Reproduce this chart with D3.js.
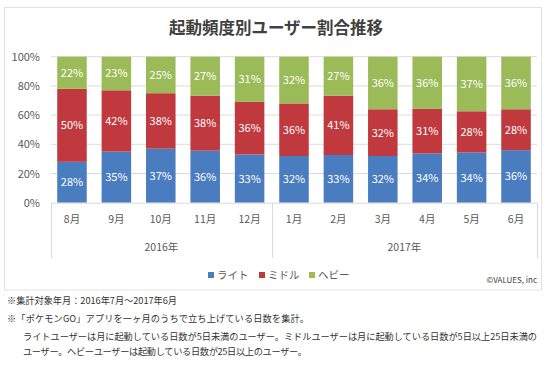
<!DOCTYPE html>
<html><head><meta charset="utf-8">
<script src="https://cdn.jsdelivr.net/npm/d3@7"></script>
<style>
html,body{margin:0;padding:0;background:#fff;}
text{font-family:"Noto Sans CJK JP","Noto Sans",sans-serif;}
</style></head>
<body>
<svg id="c" width="554" height="369"></svg>
<script>
const months = ["8月","9月","10月","11月","12月","1月","2月","3月","4月","5月","6月"];
const yearOf = ["2016年","2016年","2016年","2016年","2016年","2017年","2017年","2017年","2017年","2017年","2017年"];
const years = ["2016年","2017年"];
const seriesNames = ["ライト","ミドル","ヘビー"];
const light  = [28,35,37,36,33,32,33,32,34,34,36];
const middle = [50,42,38,38,36,36,41,32,31,28,28];
const heavy  = [22,23,25,27,31,32,27,36,36,37,36];
const yTicks = [0,0.2,0.4,0.6,0.8,1];
const colors = ["#4A7DC0","#C0393E","#9BBB59"];
const title = "起動頻度別ユーザー割合推移";
const credit = "©VALUES, inc";
const notes = [
  "※集計対象年月：2016年7月～2017年6月",
  "※「ポケモンGO」アプリを一ヶ月のうちで立ち上げている日数を集計。",
  "ライトユーザーは月に起動している日数が5日未満のユーザー。ミドルユーザーは月に起動している日数が5日以上25日未満の",
  "ユーザー。ヘビーユーザーは起動している日数が25日以上のユーザー。"
];

const svg = d3.select("#c");
const table = months.map((m,i)=>({month:m, year:yearOf[i], ライト:light[i], ミドル:middle[i], ヘビー:heavy[i]}));

// frame
svg.append("rect").attr("x",4.5).attr("y",7.5).attr("width",537).attr("height",282.5)
  .attr("fill","#fff").attr("stroke","#E2E2E2");

svg.append("text").attr("x",276).attr("y",34).attr("text-anchor","middle")
  .attr("font-size",16.5).attr("font-weight","bold").attr("fill","#404040").text(title);

const L=51, R=537, T=56.7, B=202.7;
const x = d3.scaleBand().domain(months).range([L,R]).paddingInner(0.335).paddingOuter(0.14);
const y = d3.scaleLinear().domain([0,1]).range([B,T]);

// gridlines
svg.append("g").selectAll("line").data(yTicks.filter(t=>t>0)).join("line")
  .attr("x1",L).attr("x2",R).attr("y1",d=>y(d)).attr("y2",d=>y(d))
  .attr("stroke","#DCDCDC").attr("stroke-width",1);

// y axis labels
const yAxis = d3.axisLeft(y).tickValues(yTicks).tickFormat(d3.format(".0%")).tickSize(0).tickPadding(0);
const ya = svg.append("g").attr("transform",`translate(40,0)`).call(yAxis);
ya.select(".domain").remove();
ya.selectAll("text").attr("font-size",11).attr("fill","#595959").attr("font-family",'"Noto Sans CJK JP",sans-serif');

const stack = d3.stack().keys(seriesNames).offset(d3.stackOffsetExpand);
const stacked = stack(table);

const g = svg.append("g");
stacked.forEach((s,si)=>{
  g.append("g").selectAll("rect").data(s).join("rect")
    .attr("x",d=>x(d.data.month)).attr("width",x.bandwidth())
    .attr("y",d=>y(d[1])).attr("height",d=>y(d[0])-y(d[1]))
    .attr("fill",colors[si]);
  g.append("g").selectAll("text").data(s).join("text")
    .attr("x",d=>x(d.data.month)+x.bandwidth()/2)
    .attr("y",d=>(y(d[0])+y(d[1]))/2+4)
    .attr("text-anchor","middle").attr("font-size",11).attr("fill","#fff")
    .text(d=>d.data[seriesNames[si]]+"%");
});

// x axis line
svg.append("line").attr("x1",L).attr("x2",R).attr("y1",B+0.5).attr("y2",B+0.5).attr("stroke","#D9D9D9");
const xAxis = d3.axisBottom(x).tickSize(0).tickPadding(0);
const xa = svg.append("g").attr("transform",`translate(0,${B+13})`).call(xAxis);
xa.select(".domain").remove();
xa.selectAll("text").attr("font-size",10.5).attr("fill","#595959").attr("font-family",'"Noto Sans CJK JP",sans-serif');

// group separators
const groupEdges = [];
years.forEach((yr,i)=>{
  const idx = months.map((m,j)=>j).filter(j=>yearOf[j]===yr);
  const first = idx[0], last = idx[idx.length-1];
  const x0 = first===0 ? L : (x(months[first-1])+x.bandwidth()+x(months[first]))/2;
  const x1 = last===months.length-1 ? R : (x(months[last])+x.bandwidth()+x(months[last+1]))/2;
  groupEdges.push(x0,x1);
  svg.append("text").attr("x",(x0+x1)/2).attr("y",251).attr("text-anchor","middle")
    .attr("font-size",10.5).attr("fill","#595959").text(yr);
});
svg.append("g").selectAll("line").data(Array.from(new Set(groupEdges))).join("line")
  .attr("x1",d=>Math.round(d)+0.5).attr("x2",d=>Math.round(d)+0.5).attr("y1",B).attr("y2",258)
  .attr("stroke","#D9D9D9");

// legend
const legendX = [208,259,309];
const lg = svg.append("g");
seriesNames.forEach((n,i)=>{
  lg.append("rect").attr("x",legendX[i]).attr("y",272).attr("width",6).attr("height",6).attr("fill",colors[i]);
  lg.append("text").attr("x",legendX[i]+9).attr("y",279).attr("font-size",10.5).attr("fill","#595959").text(n);
});

svg.append("text").attr("x",537).attr("y",283).attr("text-anchor","end")
  .attr("font-size",8).attr("fill","#404040").text(credit);

// notes
const noteX = [7,7,23,23], noteY=[304,322,340,355], noteW=[170,302,514,284];
notes.forEach((t,i)=>{
  svg.append("text").attr("x",noteX[i]).attr("y",noteY[i]).attr("font-size",9.2)
    .attr("fill","#333").attr("textLength",noteW[i]).attr("lengthAdjust","spacing").text(t);
});
</script>
</body></html>
